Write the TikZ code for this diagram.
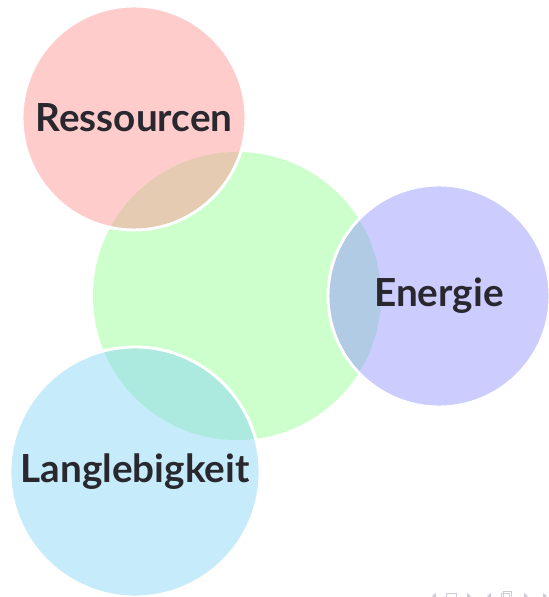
\documentclass[tikz,border=0pt]{standalone}
\usepackage{fontspec}
\setmainfont{Lato}
\usetikzlibrary{positioning}

\definecolor{ressrot}{RGB}{255,153,153}
\definecolor{kerngruen}{RGB}{204,255,204}
\definecolor{energieblau}{RGB}{153,153,255}
\definecolor{langcyan}{RGB}{141,215,245}
\definecolor{textgrau}{RGB}{40,40,46}
\definecolor{navgrau}{RGB}{205,205,218}

\begin{document}
\begin{tikzpicture}[x=0.025cm, y=-0.025cm,
		kreis/.style = {circle, inner sep=0pt, fill opacity=0.5, text opacity=1,
			draw=white, line width=2.1pt, text=textgrau,
			font=\fontsize{27.5}{32}\selectfont\bfseries},
		nav/.style = {fill=navgrau, draw=none}]
	\useasboundingbox (0,0) rectangle (548,597);

	% Mitte
	\node [circle, fill=kerngruen, minimum size=7.2cm] (kern) at (237,296) {};

	% die drei Themen
	\node [kreis, fill=ressrot, minimum size=5.6cm] (res) at (134,118) {Ressourcen};
	\node [kreis, fill=energieblau, minimum size=5.55cm] (energie) at (439,296) {Energie};
	\node [kreis, fill=langcyan, minimum size=6.25cm] (lang) at (135,472) {Langlebigkeit};

	% Navigation
	\foreach \x in {436,491}
	{
		\fill [nav] (\x,593) -- (\x-4,596) -- (\x,599) -- cycle;
	}
	\foreach \x in {467,524}
	{
		\fill [nav] (\x,593) -- (\x+4,596) -- (\x,599) -- cycle;
	}
	\draw [navgrau, line width=0.5pt] (446,593) rectangle (456,600);
	\draw [navgrau, line width=0.5pt] (503,591) rectangle (511,600) (501,593) rectangle (509,600);
	\fill [nav] (543,593) -- (547,596) -- (543,599) -- cycle;
\end{tikzpicture}
\end{document}
